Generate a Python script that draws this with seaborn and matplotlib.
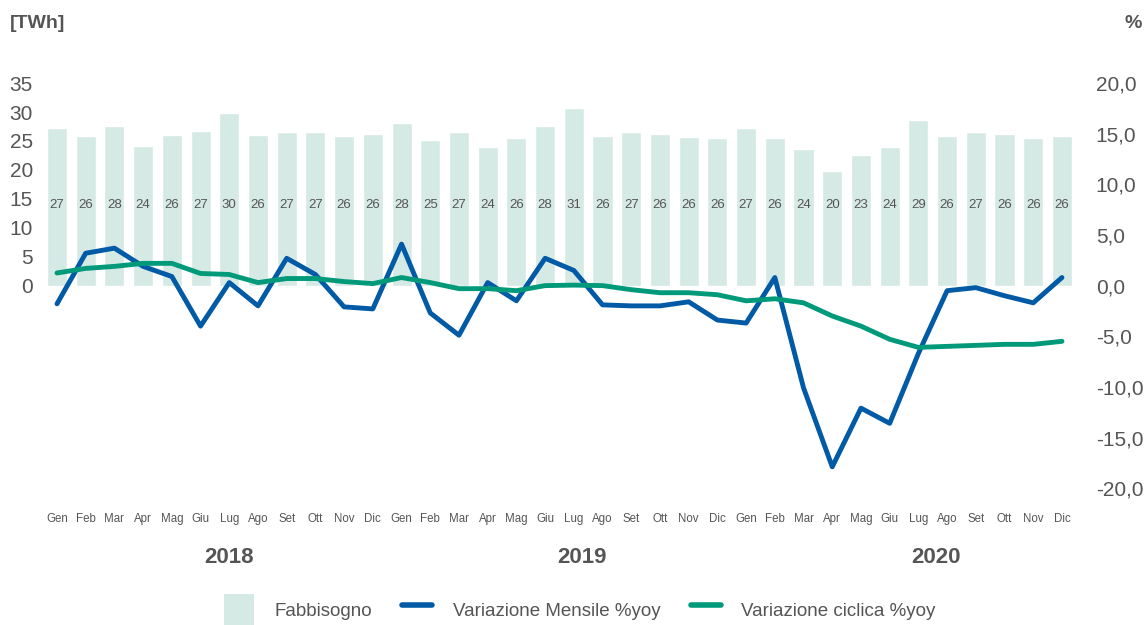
import matplotlib
matplotlib.use("Agg")
import matplotlib.pyplot as plt
from matplotlib.patches import Patch
from matplotlib.lines import Line2D
import pandas as pd
import seaborn as sns

# data (Jan 2018 - Dec 2020)
mesi = ['Gen', 'Feb', 'Mar', 'Apr', 'Mag', 'Giu', 'Lug', 'Ago', 'Set', 'Ott', 'Nov', 'Dic'] * 3
anni = ['2018', '2019', '2020']
fabbisogno = [27.2, 25.8, 27.6, 24.2, 26.0, 26.8, 29.9, 26.1, 26.6, 26.6, 25.9, 26.2,
              28.1, 25.2, 26.6, 24.0, 25.6, 27.6, 30.7, 25.9, 26.6, 26.2, 25.7, 25.6,
              27.2, 25.6, 23.7, 19.8, 22.6, 23.9, 28.7, 25.9, 26.6, 26.2, 25.6, 25.8]
var_mensile = [-1.8, 3.2, 3.7, 1.9, 0.9, -4.0, 0.3, -2.0, 2.7, 1.1, -2.1, -2.3,
               4.1, -2.7, -4.9, 0.3, -1.5, 2.7, 1.5, -1.9, -2.0, -2.0, -1.6, -3.4,
               -3.7, 0.8, -10.1, -17.9, -12.1, -13.6, -6.7, -0.5, -0.2, -1.0, -1.7, 0.8]
var_ciclica = [1.25, 1.7, 1.9, 2.2, 2.2, 1.2, 1.1, 0.3, 0.7, 0.7, 0.4, 0.2,
               0.8, 0.3, -0.3, -0.3, -0.5, 0.0, 0.05, 0.0, -0.4, -0.7, -0.7, -0.9,
               -1.5, -1.3, -1.7, -3.0, -4.0, -5.3, -6.1, -6.0, -5.9, -5.8, -5.8, -5.5]

df = pd.DataFrame({'idx': range(len(mesi)), 'mese': mesi, 'fabbisogno': fabbisogno,
                   'mensile': var_mensile, 'ciclica': var_ciclica})

bar_color = '#d5e9e5'
blue = '#005aa5'
green = '#009a7a'
grey = '#555555'

sns.set_style("white")
plt.rcParams['font.family'] = ['Liberation Sans', 'DejaVu Sans']

fig = plt.figure(figsize=(11.46, 6.25), dpi=100)
ax = fig.add_axes([0.0372, 0.219, 0.902, 0.648])

sns.barplot(data=df, x='idx', y='fabbisogno', color=bar_color, width=0.7,
            saturation=1, ax=ax)
for i, v in enumerate(fabbisogno):
    ax.text(i, 14, '%d' % int(v + 0.5), ha='center', va='center', fontsize=9.5, color=grey)

ax.set_ylim(-35, 35)
ax.set_yticks(range(0, 40, 5))
ax.set_xlim(-0.5, 35.5)
ax.set_xticks(range(len(mesi)))
ax.set_xticklabels(mesi, fontsize=8.3, color=grey)
ax.tick_params(axis='x', length=0, pad=18)
ax.tick_params(axis='y', length=0, pad=7, labelsize=15, labelcolor=grey)
ax.set_xlabel('')
ax.set_ylabel('')

ax2 = ax.twinx()
sns.lineplot(data=df, x='idx', y='mensile', color=blue, linewidth=3.5, ax=ax2)
sns.lineplot(data=df, x='idx', y='ciclica', color=green, linewidth=3.5, ax=ax2)
ax2.set_ylim(-20, 20)
ax2.set_yticks(range(-20, 25, 5))
ax2.set_yticklabels([('%.1f' % v).replace('.', ',') for v in range(-20, 25, 5)])
ax2.tick_params(axis='y', length=0, pad=14, labelsize=15, labelcolor=grey)
ax2.set_xlabel('')
ax2.set_ylabel('')

for a in (ax, ax2):
    for s in a.spines.values():
        s.set_visible(False)

# years under the month labels
for pos, anno in zip([6.0, 18.3, 30.6], anni):
    ax.text(pos, -0.172, anno, transform=ax.get_xaxis_transform(), ha='center', va='center',
            fontsize=16, fontweight='bold', color=grey)

fig.text(0.009, 0.962, '[TWh]', fontsize=14, fontweight='bold', color=grey, va='center')
fig.text(0.996, 0.962, '%', fontsize=14, fontweight='bold', color=grey, va='center', ha='right')

handles = [Patch(facecolor=bar_color, edgecolor='none'),
           Line2D([], [], color=blue, linewidth=4),
           Line2D([], [], color=green, linewidth=4)]
fig.legend(handles, ['Fabbisogno', 'Variazione Mensile %yoy', 'Variazione ciclica %yoy'],
           loc='center', bbox_to_anchor=(0.506, 0.024), ncol=3, frameon=False,
           fontsize=13.5, labelcolor=grey, handlelength=1.6, handleheight=2.3,
           columnspacing=1.6, handletextpad=1.1)

plt.savefig('out.png', dpi=100)
